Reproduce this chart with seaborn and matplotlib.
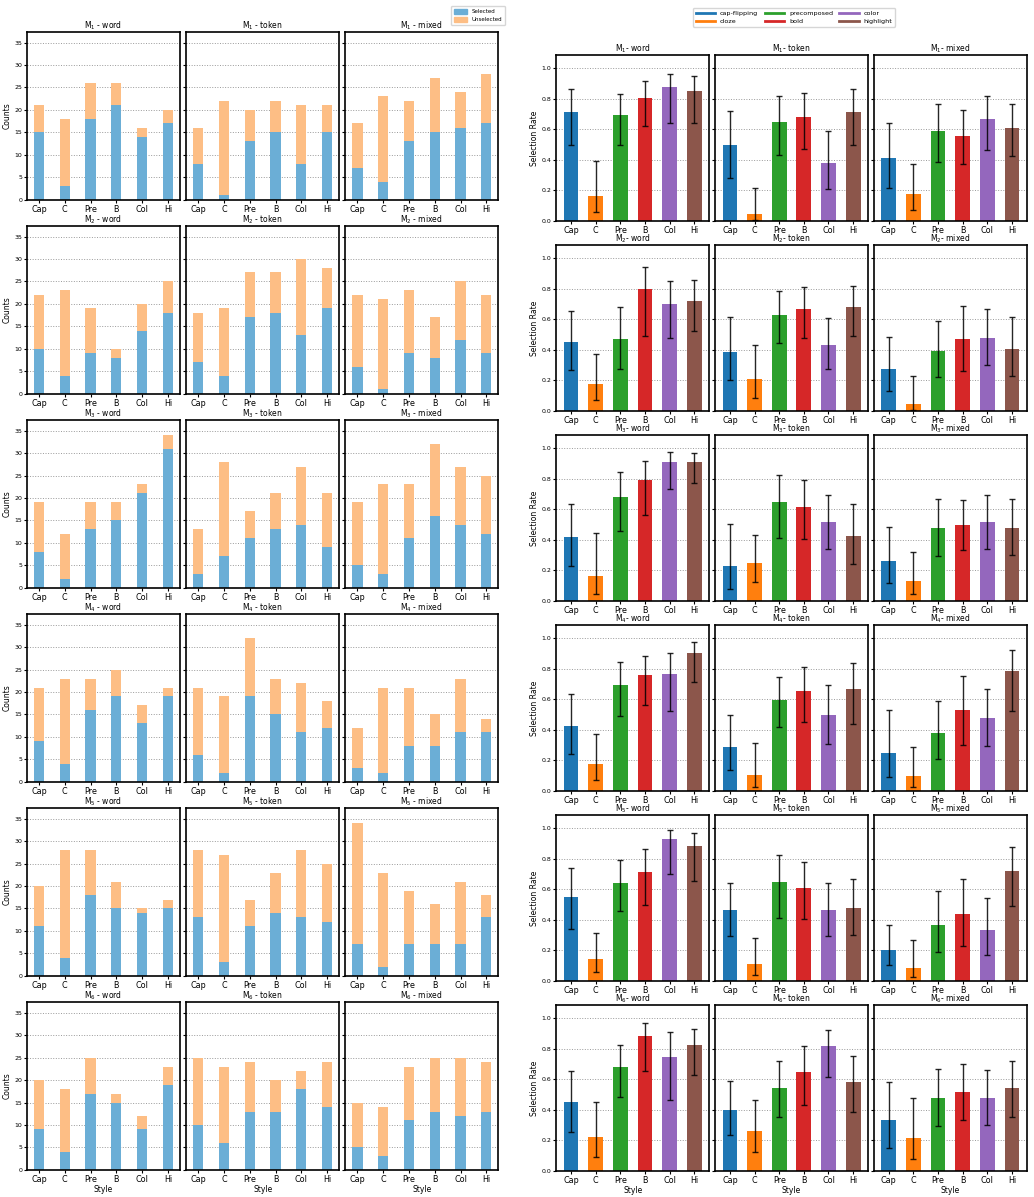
import numpy as np
import pandas as pd
import seaborn as sns
import matplotlib.pyplot as plt
from matplotlib.lines import Line2D
from matplotlib.patches import Patch

styles = ['Cap', 'C', 'Pre', 'B', 'Col', 'Hi']
style_names = ['cap-flipping', 'cloze', 'precomposed', 'bold', 'color', 'highlight']
splits = ['word', 'token', 'mixed']
models = [1, 2, 3, 4, 5, 6]

# counts per model (rows M1..M6), columns follow `styles`
selected_word = [[15, 3, 18, 21, 14, 17],
                 [10, 4, 9, 8, 14, 18],
                 [8, 2, 13, 15, 21, 31],
                 [9, 4, 16, 19, 13, 19],
                 [11, 4, 18, 15, 14, 15],
                 [9, 4, 17, 15, 9, 19]]
total_word = [[21, 18, 26, 26, 16, 20],
              [22, 23, 19, 10, 20, 25],
              [19, 12, 19, 19, 23, 34],
              [21, 23, 23, 25, 17, 21],
              [20, 28, 28, 21, 15, 17],
              [20, 18, 25, 17, 12, 23]]
selected_token = [[8, 1, 13, 15, 8, 15],
                  [7, 4, 17, 18, 13, 19],
                  [3, 7, 11, 13, 14, 9],
                  [6, 2, 19, 15, 11, 12],
                  [13, 3, 11, 14, 13, 12],
                  [10, 6, 13, 13, 18, 14]]
total_token = [[16, 22, 20, 22, 21, 21],
               [18, 19, 27, 27, 30, 28],
               [13, 28, 17, 21, 27, 21],
               [21, 19, 32, 23, 22, 18],
               [28, 27, 17, 23, 28, 25],
               [25, 23, 24, 20, 22, 24]]
selected_mixed = [[7, 4, 13, 15, 16, 17],
                  [6, 1, 9, 8, 12, 9],
                  [5, 3, 11, 16, 14, 12],
                  [3, 2, 8, 8, 11, 11],
                  [7, 2, 7, 7, 7, 13],
                  [5, 3, 11, 13, 12, 13]]
total_mixed = [[17, 23, 22, 27, 24, 28],
               [22, 21, 23, 17, 25, 22],
               [19, 23, 23, 32, 27, 25],
               [12, 21, 21, 15, 23, 14],
               [34, 23, 19, 16, 21, 18],
               [15, 14, 23, 25, 25, 24]]

sel = {'word': selected_word, 'token': selected_token, 'mixed': selected_mixed}
tot = {'word': total_word, 'token': total_token, 'mixed': total_mixed}

rows = []
for i, m in enumerate(models):
    for s in splits:
        for j, st in enumerate(styles):
            rows.append(dict(model=m, split=s, style=st,
                             selected=sel[s][i][j], total=tot[s][i][j]))
df = pd.DataFrame(rows)

# selection rate with Wilson 95% interval
z = 1.96
n = df['total']
p = df['selected'] / n
centre = (p + z**2 / (2 * n)) / (1 + z**2 / n)
half = z * np.sqrt(p * (1 - p) / n + z**2 / (4 * n**2)) / (1 + z**2 / n)
df['rate'] = p
df['lo'] = centre - half
df['hi'] = centre + half

blue = '#6baed6'
orange = '#fdbe85'
tab = sns.color_palette('tab10')[:6]
pal = dict(zip(styles, tab))

fig = plt.figure(figsize=(10.34, 11.97), dpi=100)
gs_l = fig.add_gridspec(6, 3, left=0.026, right=0.482, top=0.9735, bottom=0.0226,
                        wspace=0.04, hspace=0.154)
gs_r = fig.add_gridspec(6, 3, left=0.538, right=0.993, top=0.954, bottom=0.0217,
                        wspace=0.04, hspace=0.145)


def style_axes(ax, r, c, ylabel):
    ax.grid(axis='y', linestyle=':', color='gray', linewidth=0.7, alpha=0.8)
    ax.set_axisbelow(True)
    for sp in ax.spines.values():
        sp.set_visible(True)
        sp.set_linewidth(1.2)
        sp.set_color('black')
    ax.tick_params(axis='x', labelsize=5.8, length=2, pad=1.5)
    ax.tick_params(axis='y', labelsize=4.5, length=2, pad=1.5)
    ax.set_xlabel('Style' if r == 5 else '', fontsize=5.5, labelpad=1)
    if c == 0:
        ax.set_ylabel(ylabel, fontsize=5.5, labelpad=2)
    else:
        ax.set_ylabel('')
        ax.tick_params(axis='y', labelleft=False)


for r, m in enumerate(models):
    for c, s in enumerate(splits):
        sub = df[(df.model == m) & (df.split == s)]

        # stacked counts
        ax = fig.add_subplot(gs_l[r, c])
        sns.barplot(data=sub, x='style', y='total', order=styles, color=orange,
                    width=0.4, saturation=1, errorbar=None, ax=ax)
        sns.barplot(data=sub, x='style', y='selected', order=styles, color=blue,
                    width=0.4, saturation=1, errorbar=None, ax=ax)
        ax.set_ylim(0, 37.4)
        ax.set_yticks(range(0, 36, 5))
        ax.set_xlim(-0.47, 5.47)
        ax.set_title(f'M$_{m}$ - {s}', fontsize=5.5, pad=2.5)
        style_axes(ax, r, c, 'Counts')

        # selection rates
        ax = fig.add_subplot(gs_r[r, c])
        sns.barplot(data=sub, x='style', y='rate', hue='style', order=styles,
                    palette=pal, width=0.6, saturation=1, errorbar=None,
                    legend=False, ax=ax)
        ax.errorbar(np.arange(len(styles)), sub['rate'],
                    yerr=[sub['rate'] - sub['lo'], sub['hi'] - sub['rate']],
                    fmt='none', ecolor='black', elinewidth=1, capsize=2.5,
                    capthick=1, alpha=0.85)
        ax.set_ylim(0, 1.087)
        ax.set_yticks(np.arange(0, 1.01, 0.2))
        ax.set_xlim(-0.6, 5.6)
        ax.set_title(f'M$_{m}$- {s}', fontsize=5.5, pad=2.5)
        style_axes(ax, r, c, 'Selection Rate')

fig.legend(handles=[Patch(color=blue, label='Selected'),
                    Patch(color=orange, label='Unselected')],
           loc='upper right', bbox_to_anchor=(0.491, 0.997), fontsize=4,
           handlelength=2.4, handleheight=0.9, borderpad=0.5, labelspacing=0.5)

fig.legend(handles=[Line2D([], [], color=col, lw=2, label=lab)
                    for col, lab in zip(tab, style_names)],
           loc='upper center', bbox_to_anchor=(0.768, 0.996), ncol=3, fontsize=4.6,
           handlelength=3, handletextpad=0.8, columnspacing=1.0,
           labelspacing=0.4, borderpad=0.4)

fig.savefig('out.png', dpi=100)
